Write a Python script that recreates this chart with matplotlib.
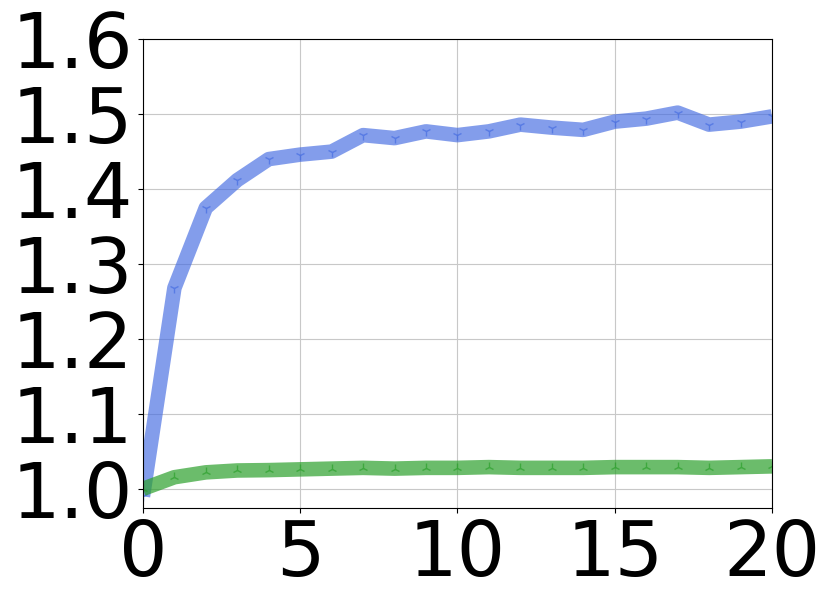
import matplotlib
matplotlib.use("Agg")
import matplotlib.pyplot as plt
import numpy as np

# values
steps = list(range(21))
blue_vals = [0.99, 1.268, 1.375, 1.412, 1.440, 1.446, 1.450, 1.472, 1.468, 1.477, 1.472,
             1.477, 1.486, 1.482, 1.479, 1.490, 1.494, 1.502, 1.486, 1.490, 1.497]
green_vals = [1.0, 1.0155, 1.022, 1.0245, 1.025, 1.026, 1.027, 1.028, 1.027, 1.028, 1.028,
              1.029, 1.028, 1.028, 1.028, 1.029, 1.029, 1.029, 1.028, 1.029, 1.030]
xticks = [0, 5, 10, 15, 20]
yticks = [1.0, 1.1, 1.2, 1.3, 1.4, 1.5, 1.6]

fig = plt.figure(figsize=(8.31, 6.03), dpi=100)
ax = fig.add_subplot(111)
fig.subplots_adjust(left=0.172, right=0.929, top=0.935, bottom=0.157)

ax.plot(steps, blue_vals, color='royalblue', alpha=0.65, linewidth=10.5,
        marker='1', markersize=7, solid_capstyle='butt')
ax.plot(steps, green_vals, color='tab:green', alpha=0.7, linewidth=10.5,
        marker='2', markersize=7, solid_capstyle='butt')

ax.set_xlim(0, 20)
ax.set_ylim(0.974, 1.6)
ax.set_xticks(xticks)
ax.set_yticks(yticks)
ax.set_yticklabels([f"{v:.1f}" for v in yticks])
ax.tick_params(labelsize=55)
ax.grid(True, color='#c8c8c8', linewidth=0.8)

fig.savefig("out.png", dpi=100)
